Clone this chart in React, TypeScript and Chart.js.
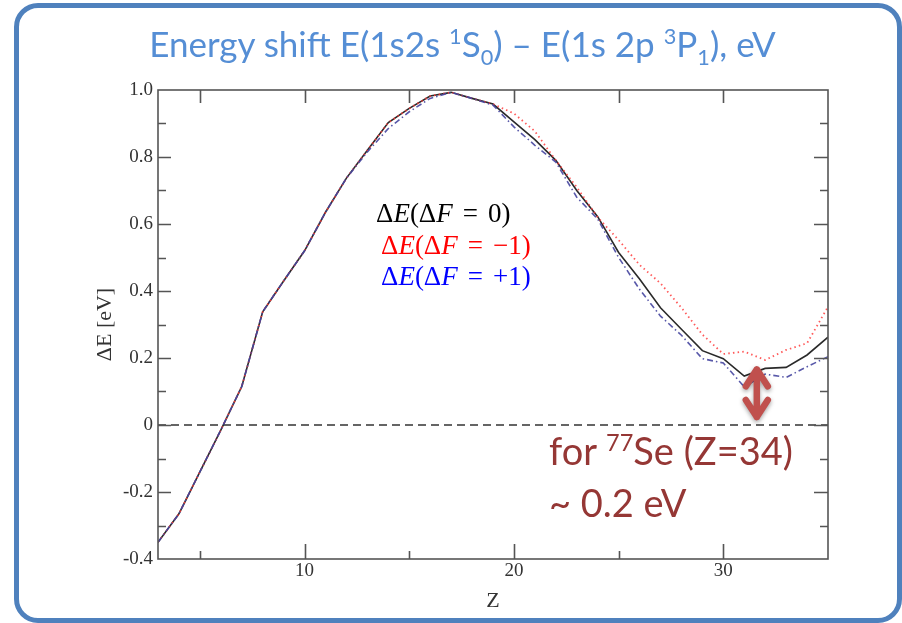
import React, { useEffect, useRef } from 'react';
import { Chart, registerables } from 'chart.js';

Chart.register(...registerables);

// ---- data ----
const zValues = [3, 4, 5, 6, 7, 8, 9, 10, 11, 12, 13, 14, 15, 16, 17, 18, 19, 20, 21, 22, 23, 24, 25, 26, 27, 28, 29, 30, 31, 32, 33, 34, 35];
const dE0 = [-0.35, -0.265, -0.14, -0.015, 0.115, 0.338, 0.43, 0.52, 0.635, 0.737, 0.82, 0.903, 0.945, 0.982, 0.993, 0.975, 0.958, 0.905, 0.852, 0.79, 0.70, 0.622, 0.515, 0.436, 0.35, 0.286, 0.222, 0.198, 0.146, 0.169, 0.172, 0.209, 0.262];
const dEm1 = [-0.35, -0.265, -0.14, -0.015, 0.115, 0.338, 0.43, 0.52, 0.635, 0.737, 0.82, 0.903, 0.945, 0.982, 0.993, 0.975, 0.958, 0.93, 0.877, 0.79, 0.71, 0.62, 0.552, 0.478, 0.423, 0.35, 0.27, 0.212, 0.219, 0.194, 0.224, 0.244, 0.353];
const dEp1 = [-0.35, -0.265, -0.14, -0.015, 0.115, 0.338, 0.43, 0.52, 0.635, 0.737, 0.815, 0.885, 0.935, 0.975, 0.993, 0.975, 0.955, 0.89, 0.835, 0.785, 0.68, 0.615, 0.50, 0.405, 0.325, 0.268, 0.198, 0.185, 0.114, 0.152, 0.142, 0.174, 0.204];

const xRange = [3, 35];
const yRange = [-0.4, 1.0];
const xTickValues = [10, 20, 30];
const xMinorTicks = [5, 15, 25];
const yTickValues = [-0.4, -0.2, 0, 0.2, 0.4, 0.6, 0.8, 1.0];
const yTickLabels = ['-0.4', '-0.2', '0', '0.2', '0.4', '0.6', '0.8', '1.0'];
const yMinorTicks = [-0.3, -0.1, 0.1, 0.3, 0.5, 0.7, 0.9];

// annotation arrow (in data units)
const arrowZ = 31.6;
const arrowLow = 0.015;
const arrowHigh = 0.175;

const AXIS = '#555';

const framePlugin = {
  id: 'frameTicks',
  afterDraw(chart: any) {
    const { ctx, chartArea, scales } = chart;
    const { left, right, top, bottom } = chartArea;
    const x = scales.x;
    const y = scales.y;
    ctx.save();
    ctx.strokeStyle = AXIS;
    ctx.lineWidth = 1.6;
    ctx.strokeRect(left, top, right - left, bottom - top);
    ctx.beginPath();
    xTickValues.forEach((v) => {
      const px = Math.round(x.getPixelForValue(v)) + 0.5;
      ctx.moveTo(px, bottom); ctx.lineTo(px, bottom - 15);
      ctx.moveTo(px, top); ctx.lineTo(px, top + 13);
    });
    xMinorTicks.forEach((v) => {
      const px = Math.round(x.getPixelForValue(v)) + 0.5;
      ctx.moveTo(px, bottom); ctx.lineTo(px, bottom - 8);
      ctx.moveTo(px, top); ctx.lineTo(px, top + 13);
    });
    yTickValues.forEach((v) => {
      if (v === yRange[0] || v === yRange[1]) return;
      const py = Math.round(y.getPixelForValue(v)) + 0.5;
      ctx.moveTo(left, py); ctx.lineTo(left + 13, py);
      ctx.moveTo(right, py); ctx.lineTo(right - 14, py);
    });
    yMinorTicks.forEach((v) => {
      const py = Math.round(y.getPixelForValue(v)) + 0.5;
      ctx.moveTo(left, py); ctx.lineTo(left + 8, py);
      ctx.moveTo(right, py); ctx.lineTo(right - 8, py);
    });
    ctx.stroke();
    ctx.restore();
  },
};

const arrowPlugin = {
  id: 'arrow',
  afterDraw(chart: any) {
    const { ctx, scales } = chart;
    const px = scales.x.getPixelForValue(arrowZ);
    const yTop = scales.y.getPixelForValue(arrowHigh);
    const yBot = scales.y.getPixelForValue(arrowLow);
    ctx.save();
    ctx.strokeStyle = '#c0504d';
    ctx.lineWidth = 6.5;
    ctx.lineCap = 'round';
    ctx.lineJoin = 'round';
    ctx.shadowColor = 'rgba(0,0,0,0.35)';
    ctx.shadowBlur = 4;
    ctx.shadowOffsetY = 2;
    ctx.beginPath();
    ctx.moveTo(px, yTop + 3);
    ctx.lineTo(px, yBot - 3);
    ctx.moveTo(px - 11, yTop + 20);
    ctx.lineTo(px, yTop + 3);
    ctx.lineTo(px + 11, yTop + 20);
    ctx.moveTo(px - 11, yBot - 20);
    ctx.lineTo(px, yBot - 3);
    ctx.lineTo(px + 11, yBot - 20);
    ctx.stroke();
    ctx.restore();
  },
};

const toPts = (arr: number[]) => zValues.map((z, i) => ({ x: z, y: arr[i] }));

export default function App() {
  const ref = useRef<HTMLCanvasElement>(null);
  useEffect(() => {
    const serif = 'Liberation Serif';
    const chart = new Chart(ref.current as HTMLCanvasElement, {
      type: 'line',
      data: {
        datasets: [
          { label: 'dF=+1', data: toPts(dEp1), borderColor: 'rgba(70,70,160,0.9)', borderWidth: 1.6, borderDash: [6, 3, 1.5, 3], pointRadius: 0, fill: false },
          { label: 'dF=-1', data: toPts(dEm1), borderColor: 'rgba(255,60,60,0.85)', borderWidth: 1.8, borderDash: [1.5, 3.2], pointRadius: 0, fill: false },
          { label: 'dF=0', data: toPts(dE0), borderColor: '#2a2a2a', borderWidth: 1.6, pointRadius: 0, fill: false },
          { label: 'zero', data: [{ x: xRange[0], y: 0 }, { x: xRange[1], y: 0 }], borderColor: '#333', borderWidth: 1.3, borderDash: [8, 5], pointRadius: 0, fill: false },
        ],
      },
      options: {
        animation: false,
        responsive: false,
        maintainAspectRatio: false,
        layout: { padding: { top: 90, right: 74, bottom: 0, left: 0 } },
        plugins: { legend: { display: false }, tooltip: { enabled: false }, title: { display: false } },
        scales: {
          x: {
            type: 'linear',
            min: xRange[0],
            max: xRange[1],
            afterBuildTicks: (s: any) => { s.ticks = xTickValues.map((v) => ({ value: v })); },
            afterFit: (s: any) => { s.height = 64; },
            grid: { display: false, drawTicks: false },
            border: { display: false },
            ticks: { font: { family: serif, size: 19 }, color: '#333', padding: 1, callback: (v: any) => String(v) },
            title: { display: true, text: 'Z', font: { family: serif, size: 22 }, color: '#333', padding: { top: 0, bottom: 9 } },
          },
          y: {
            type: 'linear',
            min: yRange[0],
            max: yRange[1],
            afterBuildTicks: (s: any) => { s.ticks = yTickValues.map((v) => ({ value: v })); },
            afterFit: (s: any) => { s.width = 158; },
            grid: { display: false, drawTicks: false },
            border: { display: false },
            ticks: {
              font: { family: serif, size: 19 },
              color: '#333',
              padding: 5,
              callback: (_v: any, i: number) => yTickLabels[i],
            },
            title: { display: true, text: 'ΔE [eV]', font: { family: serif, size: 22 }, color: '#333', padding: { top: 92, bottom: 0 } },
          },
        },
      },
      plugins: [framePlugin, arrowPlugin],
    } as any);
    return () => chart.destroy();
  }, []);

  const sup: React.CSSProperties = { fontSize: '0.62em', verticalAlign: '0.6em', lineHeight: 0 };
  const sub: React.CSSProperties = { fontSize: '0.62em', verticalAlign: '-0.35em', lineHeight: 0 };
  const eq: React.CSSProperties = { padding: '0 0.12em' };
  const legendLine = (color: string, left: number, top: number, content: React.ReactNode) => (
    <div style={{ position: 'absolute', left, top, fontFamily: 'Liberation Serif', fontSize: 27, lineHeight: '30px', color, whiteSpace: 'nowrap' }}>{content}</div>
  );

  return (
    <div style={{ position: 'fixed', left: 0, top: 0, width: 902, height: 623, background: '#fff', overflow: 'hidden' }}>
      <canvas ref={ref} width={902} height={623} style={{ position: 'absolute', left: 0, top: 0 }} />
      <div style={{ position: 'absolute', left: 14, top: 3, width: 888, height: 620, boxSizing: 'border-box', border: '5px solid #4f81bd', borderRadius: 24 }} />
      <div style={{ position: 'absolute', left: 0, width: 925, top: 26, textAlign: 'center', fontFamily: 'Lato', fontSize: 35, lineHeight: '35px', color: '#558ed5', whiteSpace: 'nowrap' }}>
        Energy shift E(1s2s <span style={sup}>1</span>S<span style={sub}>0</span>) – E(1s 2p <span style={sup}>3</span>P<span style={sub}>1</span>), eV
      </div>
      {legendLine('#000', 376, 198, <>Δ<i>E</i>(Δ<i>F</i> <span style={eq}>=</span> 0)</>)}
      {legendLine('#f00', 381, 230, <>Δ<i>E</i>(Δ<i>F</i> <span style={eq}>=</span> −1)</>)}
      {legendLine('#00f', 381, 261, <>Δ<i>E</i>(Δ<i>F</i> <span style={eq}>=</span> +1)</>)}
      <div style={{ position: 'absolute', left: 549, top: 431, fontFamily: 'Lato', fontSize: 38, lineHeight: '38px', color: '#953735', whiteSpace: 'nowrap' }}>
        for <span style={{ fontSize: '0.62em', verticalAlign: '0.6em', lineHeight: 0 }}>77</span>Se (Z=34)
      </div>
      <div style={{ position: 'absolute', left: 549, top: 483, fontFamily: 'Lato', fontSize: 38, lineHeight: '38px', color: '#953735', whiteSpace: 'nowrap' }}>
        ~ 0.2 eV
      </div>
    </div>
  );
}
